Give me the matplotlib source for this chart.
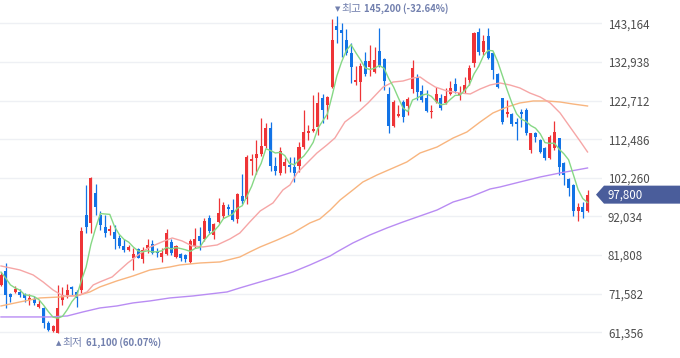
import numpy as np
import matplotlib
matplotlib.use('Agg')
import matplotlib.pyplot as plt
from matplotlib.patches import Polygon
from matplotlib.transforms import IdentityTransform

plt.rcParams['font.family'] = ['Noto Sans CJK KR', 'DejaVu Sans']

# daily candles, values in thousand won (oldest -> newest)
opens = [73.89, 77.60, 71.51, 72.04, 72.04, 71.51, 69.92, 70.18, 68.07, 67.80,
         63.83, 61.70, 61.30, 69.92, 71.24, 73.36, 72.04, 72.57, 92.42, 90.30,
         98.24, 92.42, 89.24, 88.18, 87.92, 86.33, 84.21, 83.15, 81.04, 83.42,
         80.77, 83.68, 84.74, 82.63, 81.30, 82.10, 85.27, 81.30, 82.10, 81.83,
         79.98, 84.21, 86.86, 86.07, 91.63, 87.13, 90.57, 92.15, 94.54, 93.74,
         91.36, 97.45, 96.65, 106.71, 107.51, 108.57, 110.68, 115.45, 105.39, 103.54,
         105.39, 105.65, 105.13, 105.39, 110.42, 114.12, 114.65, 115.71, 123.39, 121.54,
         126.30, 142.45, 141.39, 138.74, 135.30, 127.62, 127.62, 133.18, 131.60, 130.27,
         135.83, 133.71, 124.45, 115.98, 118.62, 122.33, 121.27, 125.77, 128.95, 125.24,
         123.39, 119.68, 122.33, 123.39, 122.07, 124.45, 127.10, 124.18, 125.24, 128.15,
         132.65, 140.86, 135.57, 139.80, 135.30, 129.74, 123.39, 119.15, 119.15, 117.04,
         119.68, 120.21, 109.62, 114.12, 112.27, 110.15, 107.51, 110.15, 112.80, 106.18,
         101.95, 100.36, 93.48, 94.54, 93.48]
highs = [77.33, 79.71, 71.77, 73.63, 72.83, 71.77, 71.51, 70.98, 69.92, 68.07,
         64.36, 63.30, 73.89, 73.36, 74.16, 73.63, 72.57, 89.24, 100.36, 102.40,
         100.63, 93.48, 92.42, 89.77, 89.77, 87.13, 86.07, 84.48, 83.68, 83.68,
         83.95, 86.07, 85.80, 83.68, 83.68, 88.71, 86.07, 84.48, 82.36, 82.10,
         86.07, 88.98, 89.24, 91.63, 92.42, 90.30, 96.92, 95.86, 95.33, 96.65,
         98.24, 103.27, 108.30, 108.57, 112.27, 118.10, 116.77, 117.04, 107.77, 110.42,
         107.51, 107.77, 107.77, 111.74, 120.21, 116.24, 124.18, 124.98, 124.45, 123.90,
         144.30, 145.20, 143.24, 141.65, 137.95, 131.86, 132.65, 135.57, 137.42, 136.89,
         141.92, 133.98, 126.30, 122.86, 121.54, 122.86, 123.65, 133.45, 129.74, 126.83,
         125.51, 121.54, 126.30, 124.45, 126.04, 127.89, 128.68, 126.57, 128.95, 132.12,
         140.80, 141.92, 140.07, 141.92, 135.57, 130.01, 123.50, 122.86, 119.42, 118.10,
         120.48, 120.74, 114.20, 114.39, 112.54, 110.42, 113.60, 117.30, 112.90, 106.45,
         102.21, 100.50, 95.60, 95.86, 99.04]
lows = [73.63, 67.80, 69.39, 71.77, 70.71, 69.39, 68.60, 68.60, 67.80, 62.51,
        61.60, 61.40, 61.10, 68.60, 70.45, 71.24, 68.07, 71.77, 87.65, 87.65,
        92.42, 88.45, 86.60, 87.13, 83.42, 83.68, 82.63, 82.89, 77.86, 80.90,
        79.71, 82.36, 82.10, 81.30, 79.98, 81.83, 81.83, 81.04, 80.24, 79.98,
        79.71, 83.68, 83.15, 85.54, 87.65, 86.07, 90.30, 91.63, 92.42, 90.83,
        90.30, 95.33, 95.33, 103.01, 103.27, 108.04, 110.15, 104.07, 103.01, 103.01,
        103.54, 103.80, 101.15, 103.80, 109.89, 112.27, 114.39, 113.60, 116.77, 117.83,
        126.04, 137.95, 134.24, 134.77, 127.36, 126.83, 122.60, 129.21, 129.21, 130.01,
        131.60, 125.51, 114.12, 115.71, 118.36, 117.04, 118.89, 124.71, 122.86, 122.33,
        119.68, 118.10, 122.07, 120.21, 121.80, 124.18, 124.71, 122.86, 124.71, 126.83,
        131.60, 134.77, 134.77, 133.71, 128.42, 126.04, 116.51, 118.36, 115.98, 112.27,
        115.71, 113.60, 108.83, 111.74, 108.83, 106.98, 107.24, 109.62, 103.01, 100.36,
        97.45, 92.15, 90.83, 91.63, 93.21]
closes = [76.54, 71.24, 70.71, 72.83, 71.24, 70.45, 70.45, 69.13, 68.86, 63.83,
          61.98, 63.04, 67.80, 71.24, 72.57, 72.83, 70.45, 88.18, 89.24, 102.21,
          94.54, 89.77, 87.65, 88.71, 86.07, 84.21, 83.15, 83.95, 82.10, 81.04,
          83.15, 84.48, 82.36, 82.36, 82.36, 87.65, 82.36, 84.21, 81.04, 80.77,
          85.54, 86.07, 85.54, 90.83, 88.18, 90.04, 92.95, 95.07, 94.01, 91.10,
          97.98, 96.13, 107.77, 107.24, 108.57, 110.68, 115.45, 105.39, 104.07, 109.36,
          106.45, 105.13, 103.54, 110.42, 114.39, 114.65, 115.18, 122.07, 120.21, 123.65,
          138.74, 141.39, 140.59, 135.30, 131.60, 128.15, 131.86, 129.74, 133.18, 133.45,
          131.86, 127.89, 115.98, 122.33, 119.15, 118.36, 123.12, 131.33, 124.98, 122.86,
          119.95, 119.95, 124.45, 120.74, 123.92, 126.04, 125.24, 124.71, 126.83, 131.33,
          140.59, 135.57, 138.48, 133.98, 130.80, 126.30, 117.04, 119.68, 116.51, 116.51,
          119.15, 114.12, 114.12, 113.06, 109.10, 107.51, 113.06, 114.39, 105.13, 103.01,
          99.57, 93.48, 94.54, 93.21, 97.80]

# moving averages (candle index, thousand won)
ma5 = [77.3, 75.7, 73.9, 73.1, 72.51, 71.29, 71.14, 70.82, 70.03, 68.54,
       66.85, 65.37, 65.10, 65.58, 67.33, 69.50, 70.98, 75.05, 78.65, 84.58,
       88.92, 92.79, 92.68, 92.58, 89.35, 87.28, 85.96, 85.22, 83.90, 82.89,
       82.68, 82.94, 82.63, 82.68, 82.94, 83.84, 83.42, 83.79, 83.52, 83.21,
       82.78, 83.53, 83.79, 85.75, 87.23, 88.13, 89.51, 91.41, 92.05, 92.63,
       94.22, 94.86, 97.40, 100.04, 103.54, 106.08, 109.94, 109.47, 108.83, 108.99,
       108.14, 106.08, 105.71, 106.98, 107.99, 109.63, 111.64, 115.34, 117.30, 119.15,
       123.97, 129.21, 132.92, 135.93, 137.52, 135.41, 133.50, 131.33, 130.91, 131.28,
       132.02, 131.22, 128.47, 126.30, 123.44, 120.74, 119.79, 122.86, 123.39, 124.13,
       124.45, 123.81, 122.44, 121.59, 121.80, 123.02, 124.08, 124.13, 125.35, 126.83,
       129.74, 131.81, 134.56, 135.99, 135.88, 133.03, 129.32, 125.56, 122.07, 119.21,
       117.78, 117.19, 116.08, 115.39, 113.91, 111.58, 111.37, 111.42, 109.84, 108.62,
       107.03, 103.12, 99.15, 96.76, 95.72]

ma20_idx = [0, 4, 6.8, 8.9, 11, 13.1, 16.1, 18.2, 19.5, 20.9, 23.5, 26.8, 29, 31.1,
            34, 36.2, 38.3, 40.4, 42.7, 45.7, 48.4, 50.5, 52.6, 54.8, 57.5, 59.6,
            61.1, 62.6, 64.7, 66.8, 68.9, 70.6, 72.7, 75.5, 77.6, 80.8, 82.9, 85,
            87.1, 88.6, 90.1, 91.8, 94.3, 97, 99.2, 101.3, 103.4, 105.5, 107.6,
            109.7, 111.8, 114, 116.1, 118.2, 120.3, 122.4, 124]
ma20_val = [78.92, 77.86, 76.54, 74.69, 72.57, 70.98, 70.98, 72.04, 73.89, 74.69,
            76.01, 79.71, 81.83, 83.68, 85.27, 86.33, 85.54, 84.21, 83.95, 84.48,
            86.07, 87.65, 90.57, 93.48, 95.60, 99.04, 100.36, 103.54, 106.18, 108.83,
            110.95, 112.80, 117.04, 119.68, 122.07, 126.30, 127.62, 127.89, 128.68,
            128.95, 127.62, 126.30, 125.24, 124.71, 124.45, 125.77, 126.83, 127.36,
            126.83, 126.04, 124.71, 123.65, 122.07, 119.42, 115.71, 112.01, 109.10]

ma60_idx = [0, 4, 8.2, 12.5, 16.7, 18.8, 20.9, 24.5, 27.9, 31.5, 35.7, 37.8, 42.1,
            46.3, 50.5, 52.6, 54.8, 58.4, 61.7, 65.3, 67.4, 69.6, 71.7, 74.4, 76.5,
            79.5, 82.9, 85.8, 88.6, 92.2, 95.6, 98.5, 101.3, 104, 107, 109.7,
            112.5, 115.4, 118.2, 120.9, 124]
ma60_val = [68.33, 69.39, 70.45, 70.71, 71.24, 72.04, 73.36, 74.96, 76.27, 77.86,
            78.65, 79.18, 79.71, 79.98, 81.30, 82.63, 83.95, 85.80, 87.65, 90.30,
            91.36, 93.74, 96.39, 99.04, 101.15, 103.01, 104.86, 106.45, 108.83,
            110.42, 112.80, 114.39, 117.04, 119.42, 121.01, 122.07, 122.60, 122.60,
            122.33, 121.80, 121.27]

ma120_idx = [0, 10.4, 14, 17.3, 20.9, 24.5, 27.9, 31.5, 35.7, 40.6, 47.8, 50.5,
             54.8, 58.4, 61.7, 65.3, 69.6, 71, 74.4, 78, 81.6, 85, 88.6, 92.2,
             95.6, 99.2, 103.4, 105.5, 109.7, 114, 118.2, 124]
ma120_val = [65.42, 65.42, 65.68, 66.74, 67.80, 68.33, 69.13, 69.66, 70.45, 70.98,
             72.04, 73.10, 74.69, 76.01, 77.33, 79.18, 81.57, 82.63, 85.01, 87.13,
             88.98, 90.57, 92.15, 93.74, 95.86, 97.19, 99.30, 99.83, 101.15, 102.48,
             103.54, 104.86]

yticks = [61356, 71582, 81808, 92034, 102260, 112486, 122712, 132938, 143164]

RED = '#ee3437'
BLUE = '#1273e6'
LABEL = '#7280ae'

o = np.array(opens) * 1000
h = np.array(highs) * 1000
l = np.array(lows) * 1000
c = np.array(closes) * 1000
x = np.arange(len(c))

fig = plt.figure(figsize=(6.8, 3.58), dpi=100)
ax = fig.add_axes([0, 0, 602 / 680, 1])
ax.set_xlim(-0.21, 127.06)
ax.set_ylim(54552, 149333)

for s in ax.spines.values():
    s.set_visible(False)
ax.set_xticks([])
ax.yaxis.tick_right()
ax.set_yticks(yticks)
ax.set_yticklabels([f'{v:,}' for v in yticks])
ax.tick_params(axis='y', length=0, pad=4.3, labelsize=8.3, labelcolor='#4d4d4d')
ax.grid(axis='y', color='#eef0f4', linewidth=1)
ax.set_axisbelow(True)

up = c >= o
cols = np.where(up, RED, BLUE)
body_lo = np.minimum(o, c)
body_h = np.maximum(np.abs(c - o), 280)
ax.vlines(x, l, h, colors=cols, linewidth=0.9, zorder=2)
ax.bar(x, body_h, bottom=body_lo, width=0.64, color=cols, linewidth=0, zorder=2)

ax.plot(ma120_idx, np.array(ma120_val) * 1000, color='#b98cf3', lw=1.0, zorder=3)
ax.plot(ma60_idx, np.array(ma60_val) * 1000, color='#f8b57f', lw=1.0, zorder=3)
ax.plot(ma20_idx, np.array(ma20_val) * 1000, color='#f6a6a6', lw=1.0, zorder=3)
ax.plot(x, np.array(ma5) * 1000, color='#86d885', lw=1.0, zorder=3)

# high / low markers
hi = int(np.argmax(h))
lo = int(np.argmin(l))
last = c[-1]
hi_txt = f'{h[hi]:,.0f} ({(last - h[hi]) / h[hi] * 100:.2f}%)'
lo_txt = f'{l[lo]:,.0f} ({(last - l[lo]) / l[lo] * 100:.2f}%)'

for idx, val, tri, word, num, dy, nx in [(hi, h[hi], '▼', '최고', hi_txt, 5.0, 19.4),
                                         (lo, l[lo], '▲', '최저', lo_txt, -7.0, 20.6)]:
    ax.annotate(tri, (idx, val), xytext=(0.8, dy), textcoords='offset points',
                ha='center', va='center', fontsize=5, color=LABEL,
                family=['DejaVu Sans'], annotation_clip=False)
    ax.annotate(word, (idx, val), xytext=(3.6, dy), textcoords='offset points',
                ha='left', va='center', fontsize=7.8, color=LABEL,
                annotation_clip=False)
    ax.annotate(num, (idx, val), xytext=(nx, dy),
                textcoords='offset points', ha='left', va='center',
                fontsize=6.9, color=LABEL, fontweight='bold',
                annotation_clip=False)

# current price tag
yc = ax.transData.transform((0, last))[1]
tag = Polygon([(596, yc), (604, yc + 9), (680, yc + 9), (680, yc - 9), (604, yc - 9)],
              closed=True, transform=IdentityTransform(), facecolor='#4a5d9b',
              edgecolor='none', zorder=5)
fig.add_artist(tag)
fig.text(608 / 680, yc / 358, f'{last:,.0f}', color='white', fontsize=8.3,
         ha='left', va='center', zorder=6)

fig.savefig('out.png', dpi=100)
